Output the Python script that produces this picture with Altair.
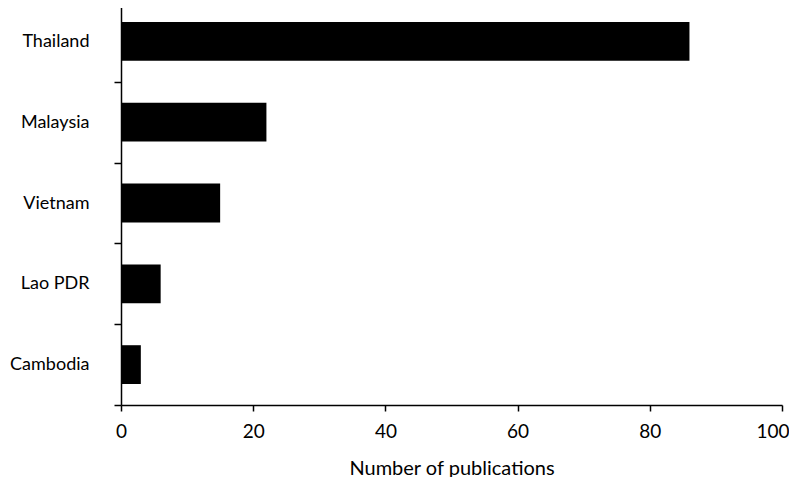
import altair as alt
import pandas as pd

countries = ["Thailand", "Malaysia", "Vietnam", "Lao PDR", "Cambodia"]
publications = [86, 22, 15, 6, 3]

df = pd.DataFrame({"country": countries, "n": publications})

FONT = "Lato"

chart = alt.Chart(df).mark_bar(color="black", height=alt.RelativeBandSize(0.48)).encode(
    x=alt.X("n:Q", scale=alt.Scale(domain=[0, 100], nice=False),
            axis=alt.Axis(values=[0, 20, 40, 60, 80, 100], title="Number of publications",
                          grid=False, tickSize=6, labelPadding=11, titlePadding=17, labelFlush=False,
                          labelAlign=alt.ExprRef(expr="datum.value == 100 ? 'right' : 'center'"),
                          labelOffset=alt.ExprRef(expr="datum.value == 100 ? 7 : 0"),
                          domainColor="black", tickColor="black", domainWidth=1.5, tickWidth=1.5,
                          labelColor="black", titleColor="black", labelFontSize=19, titleFontSize=20,
                          labelFont=FONT, titleFont=FONT, titleFontWeight="normal")),
    y=alt.Y("country:N", sort=countries,
            scale=alt.Scale(paddingInner=0, paddingOuter=0),
            axis=alt.Axis(title=None, tickBand="extent", tickSize=7, labelPadding=25,
                          domainColor="black", tickColor="black", domainWidth=1.5, tickWidth=1.5,
                          labelColor="black", labelFontSize=18, labelFont=FONT)),
).properties(
    width=661, height=404,
    autosize=alt.AutoSizeParams(type="none"),
    padding={"left": 113, "top": -7, "right": 7, "bottom": 72},
).configure_view(stroke=None)

chart.save("out.html", embed_options={"renderer": "svg", "actions": False})
